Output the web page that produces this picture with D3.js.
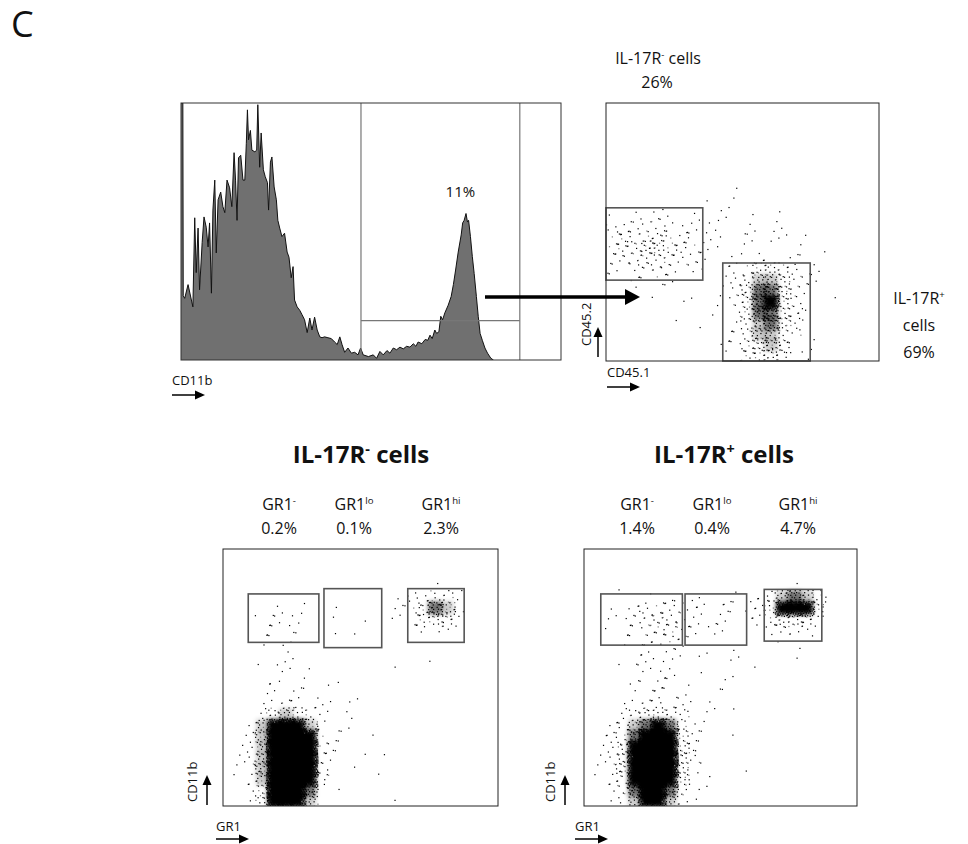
<!DOCTYPE html>
<html>
<head>
<meta charset="utf-8">
<script src="https://cdn.jsdelivr.net/npm/d3@7"></script>
<style>
body { margin: 0; background: #fff; }
svg text { font-family: "Open Sans", Lato, sans-serif; fill: #111; }
</style>
</head>
<body>
<svg id="fig" width="968" height="844"></svg>
<script>
// CD11b histogram, channel (0-1024) and events per channel
var histChannel = [0,5,6,10,19,28,32,37,41,46,50,57,62,68,73,77,82,86,91,95,
  100,107,113,118,124,131,137,143,147,151,155,161,167,172,176,179,182,187,191,199,
  204,207,212,216,222,227,233,236,241,245,251,257,261,266,272,279,286,291,297,302,
  306,313,320,326,333,340,347,353,360,367,374,380,387,396,405,414,421,428,434,441,
  450,459,468,477,484,491,505,518,527,536,545,555,563,572,581,590,599,608,617,626,
  633,639,649,658,665,671,677,684,689,695,700,705,711,720,728,734,740,747,755,759,
  763,768,772,775,780,785,790,796,801,806,812,819,826,835,842];
var histCount = [300,300,75,72,88,70,62,166,102,154,82,137,167,155,132,160,78,175,210,125,
  187,196,179,172,210,201,179,242,210,163,236,239,210,210,253,292,257,268,245,243,
  245,298,225,265,222,214,207,175,231,237,202,187,163,154,144,148,126,120,96,109,
  70,62,58,53,47,32,49,35,50,35,27,26,27,26,25,21,18,27,18,9,
  14,8,9,6,14,6,4,6,2,10,6,11,8,14,12,15,13,16,15,19,
  16,21,19,24,23,29,25,35,31,33,51,47,55,64,74,88,105,126,146,160,
  163,171,161,163,144,121,101,74,51,31,23,14,8,2,0];
var histGateX = [485, 913];
var histGateLevel = 46;
var histPercent = "11%";

// dot plots: event density per grid cell, rows top to bottom, 0 = empty .. 9 = saturated
var cd45Density = [
  "000000000000000000000000",
  "000000000000000000000000",
  "000000000000000000000000",
  "000000000000000000000000",
  "000000000000000000000000",
  "000000000000000000000000",
  "000000000000000000000000",
  "000000000000000000000000",
  "000000000001000000000000",
  "000000000111000000000000",
  "111221111110101000000000",
  "232332222101111110000000",
  "343443322110111111000000",
  "344554332010101010100000",
  "233443322011222111000000",
  "222332221012355432100000",
  "111111100013466532100000",
  "001001010013577532010000",
  "000100100013578531000000",
  "000001000112577532000000",
  "000000010012467531000000",
  "000000000012466431000000",
  "000000000112456421000000",
  "000000000012455421000000"];
var negDensity = [
  "000000000000000000000000",
  "000000000000000000000000",
  "000000000000000000000000",
  "000000000000000001100000",
  "000000000000001123442000",
  "000121100100001135763000",
  "000122100100101024542000",
  "000122100010000012210000",
  "000111100001000000000000",
  "000011100000000000000000",
  "000101100000000001000000",
  "000011110000001000000000",
  "000121101010000000000000",
  "000022110101000000000000",
  "000123211110000000000000",
  "001356532111000000000000",
  "002689862101000000000000",
  "002699983110010000000000",
  "013699993110100000000000",
  "013699993210010000000000",
  "012699993101000000000000",
  "012699983100010000000000",
  "012599972100000000000000",
  "001599861000001000000000"];
var posDensity = [
  "000000000000000000000000",
  "000000000000000000000000",
  "000000000000000000000000",
  "000000000000000001100000",
  "000101210110111246764100",
  "001223333221222358885100",
  "001233443212111245542000",
  "001123342121100023321000",
  "000122332101000001100000",
  "000012211010110000100000",
  "000122210100100000000000",
  "000012221010011000000000",
  "000112221001100000000000",
  "000012221100100000000000",
  "000123321111000000000000",
  "001345543110100000000000",
  "002467874210000000000000",
  "012479985210010000000000",
  "013589995210000000000000",
  "013589995310000000000000",
  "012589995210001000000000",
  "012489985210000000000000",
  "012479974100000000000000",
  "001368863100000000000000"];
var dotsPerLevel = [0, 1, 2, 4, 7, 12, 20, 32, 60, 120];
var shadePerLevel = [0, 0, 0, 0, 0, 0, 0.2, 0.55, 1, 1];

// gates as [x0, x1, y0, y1] in channels
var cd45Gates = [[0, 363, 321, 608], [438, 766, 0, 389]];
var negGates = [[94, 357, 652, 845], [376, 591, 631, 866], [688, 898, 652, 866]];
var posGates = [[63, 369, 641, 845], [379, 610, 641, 845], [676, 892, 657, 863]];

var gr1Names = [["GR1", "-"], ["GR1", "lo"], ["GR1", "hi"]];
var negPercents = ["0.2%", "0.1%", "2.3%"];
var posPercents = ["1.4%", "0.4%", "4.7%"];
var cd45Percents = ["26%", "69%"];

var svg = d3.select("#fig");
svg.append("rect").attr("width", 968).attr("height", 844).attr("fill", "#fff");
svg.append("defs").append("filter").attr("id", "soft")
  .attr("x", "-20%").attr("y", "-20%").attr("width", "140%").attr("height", "140%")
  .append("feGaussianBlur").attr("stdDeviation", 2);

function supText(g, x, y, parts, size, weight) {
  var t = g.append("text")
    .attr("x", x)
    .attr("y", y)
    .attr("text-anchor", "middle")
    .style("font-size", size + "px")
    .style("font-weight", weight || "normal");
  t.append("tspan").text(parts[0]);
  t.append("tspan").attr("baseline-shift", "super").style("font-size", (size * 0.6) + "px").text(parts[1]);
  if (parts[2]) t.append("tspan").text(parts[2]);
  return t;
}

function arrow(x1, y1, x2, y2, sw, hl, hw) {
  var a = Math.atan2(y2 - y1, x2 - x1);
  var bx = x2 - hl * Math.cos(a), by = y2 - hl * Math.sin(a);
  svg.append("line")
    .attr("x1", x1).attr("y1", y1).attr("x2", bx).attr("y2", by)
    .attr("stroke", "#000").attr("stroke-width", sw);
  svg.append("path")
    .attr("d", "M" + x2 + "," + y2 +
      "L" + (bx + hw * Math.sin(a)) + "," + (by - hw * Math.cos(a)) +
      "L" + (bx - hw * Math.sin(a)) + "," + (by + hw * Math.cos(a)) + "Z")
    .attr("fill", "#000");
}

// o: offsets of the axis names and arrows from the frame
function axisLabels(box, xName, yName, o) {
  svg.append("text")
    .attr("x", box.x0 - o.xl)
    .attr("y", box.y1 + o.xt)
    .style("font-size", "13px")
    .text(xName);
  arrow(box.x0 - o.xl, box.y1 + o.xa, box.x0 - o.xl + 33, box.y1 + o.xa, 1.5, 10, 4.5);
  if (yName) {
    svg.append("text")
      .attr("transform", "translate(" + (box.x0 - o.yt) + "," + (box.y1 - o.yb) + ")rotate(-90)")
      .style("font-size", "13px")
      .text(yName);
    arrow(box.x0 - o.ya, box.y1 - o.yab, box.x0 - o.ya, box.y1 - o.yab - 30, 1.5, 10, 4.5);
  }
}

// ---- histogram ----
var hBox = {x0: 181, x1: 561, y0: 103, y1: 360};
var hx = d3.scaleLinear().domain([0, 1024]).range([hBox.x0, hBox.x1]);
var hy = d3.scaleLinear().domain([0, 300]).range([hBox.y1, hBox.y0]);
var histData = histChannel.map(function(c, i) { return {c: c, n: histCount[i]}; });

svg.append("clipPath").attr("id", "clipHist")
  .append("rect").attr("x", hBox.x0).attr("y", hBox.y0)
  .attr("width", hBox.x1 - hBox.x0).attr("height", hBox.y1 - hBox.y0);

var hg = svg.append("g").attr("clip-path", "url(#clipHist)");
hg.append("path")
  .datum(histData)
  .attr("fill", "#707070")
  .attr("d", d3.area().x(function(d) { return hx(d.c); }).y0(hy(0)).y1(function(d) { return hy(d.n); }));
hg.append("path")
  .datum(histData)
  .attr("fill", "none")
  .attr("stroke", "#111")
  .attr("stroke-width", 1)
  .attr("d", d3.line().x(function(d) { return hx(d.c); }).y(function(d) { return hy(d.n); }));

histGateX.forEach(function(c) {
  svg.append("line")
    .attr("x1", hx(c)).attr("x2", hx(c)).attr("y1", hBox.y0).attr("y2", hBox.y1)
    .attr("stroke", "#777").attr("stroke-width", 1.2);
});
svg.append("line")
  .attr("x1", hx(histGateX[0])).attr("x2", hx(histGateX[1]))
  .attr("y1", hy(histGateLevel)).attr("y2", hy(histGateLevel))
  .attr("stroke", "#777").attr("stroke-width", 1.2);

svg.append("rect")
  .attr("x", hBox.x0).attr("y", hBox.y0)
  .attr("width", hBox.x1 - hBox.x0).attr("height", hBox.y1 - hBox.y0)
  .attr("fill", "none").attr("stroke", "#333").attr("stroke-width", 1);

svg.append("text")
  .attr("x", hx(d3.mean(histGateX)) + 20)
  .attr("y", 197)
  .attr("text-anchor", "middle")
  .style("font-size", "15px")
  .text(histPercent);

axisLabels(hBox, "CD11b", null, {xl: 9, xt: 25, xa: 35});

// ---- dot plots ----
function dotPanel(id, box, density, gates) {
  var x = d3.scaleLinear().domain([0, 1024]).range([box.x0, box.x1]);
  var y = d3.scaleLinear().domain([0, 1024]).range([box.y1, box.y0]);
  var nRows = density.length, nCols = density[0].length;
  var cw = 1024 / nCols, chh = 1024 / nRows;
  var cells = [], dots = [];
  density.forEach(function(row, r) {
    row.split("").forEach(function(lv, c) {
      lv = +lv;
      var cell = r * nCols + c;
      if (shadePerLevel[lv] > 0) {
        cells.push({c0: c * cw, c1: (c + 1) * cw, r0: 1024 - (r + 1) * chh, r1: 1024 - r * chh, o: shadePerLevel[lv]});
      }
      var pu = (cell * 0.6180339887) % 1, pv = (cell * 0.4142135624) % 1;
      for (var k = 0; k < dotsPerLevel[lv]; k++) {
        var u = (pu + k * 0.7548776662) % 1;
        var v = (pv + k * 0.5698402910) % 1;
        dots.push({
          cx: c * cw + (u * 1.5 - 0.25) * cw,
          cy: 1024 - (r * chh + (v * 1.5 - 0.25) * chh),
          grey: lv <= 6 && k % 3 === 2
        });
      }
    });
  });

  svg.append("clipPath").attr("id", id)
    .append("rect").attr("x", box.x0).attr("y", box.y0)
    .attr("width", box.x1 - box.x0).attr("height", box.y1 - box.y0);

  var layer = svg.append("g").attr("clip-path", "url(#" + id + ")");

  layer.append("g").attr("filter", "url(#soft)")
    .selectAll("rect").data(cells).enter()
    .append("rect")
    .attr("x", function(d) { return x(d.c0) - 1; })
    .attr("y", function(d) { return y(d.r1) - 1; })
    .attr("width", function(d) { return x(d.c1) - x(d.c0) + 2; })
    .attr("height", function(d) { return y(d.r0) - y(d.r1) + 2; })
    .attr("fill", "#000")
    .attr("fill-opacity", function(d) { return d.o; });

  layer.append("g")
    .selectAll("rect").data(dots).enter()
    .append("rect")
    .attr("x", function(d) { return x(d.cx); })
    .attr("y", function(d) { return y(d.cy); })
    .attr("width", 1.2)
    .attr("height", 1.2)
    .attr("fill", function(d) { return d.grey ? "#7a7a7a" : "#000"; });

  svg.append("g").selectAll("rect").data(gates).enter()
    .append("rect")
    .attr("x", function(d) { return x(d[0]); })
    .attr("y", function(d) { return y(d[3]); })
    .attr("width", function(d) { return x(d[1]) - x(d[0]); })
    .attr("height", function(d) { return y(d[2]) - y(d[3]); })
    .attr("fill", "none")
    .attr("stroke", "#555")
    .attr("stroke-width", 1.6);

  svg.append("rect")
    .attr("x", box.x0).attr("y", box.y0)
    .attr("width", box.x1 - box.x0).attr("height", box.y1 - box.y0)
    .attr("fill", "none").attr("stroke", "#222").attr("stroke-width", 1);
  return x;
}

var cBox = {x0: 606, x1: 879, y0: 103, y1: 361};
dotPanel("clipCd45", cBox, cd45Density, cd45Gates);

var nBox = {x0: 223, x1: 498, y0: 549, y1: 806};
var pBox = {x0: 584, x1: 857, y0: 549, y1: 806};
dotPanel("clipNeg", nBox, negDensity, negGates);
dotPanel("clipPos", pBox, posDensity, posGates);

arrow(485, 297, 640, 297, 3.5, 15, 8);

axisLabels(cBox, "CD45.1", "CD45.2", {xl: -1, xt: 16, xa: 26, yt: 15, yb: 15, ya: 8, yab: 4});
axisLabels(nBox, "GR1", "CD11b", {xl: 7, xt: 25, xa: 33, yt: 26, yb: 4, ya: 16, yab: 1});
axisLabels(pBox, "GR1", "CD11b", {xl: 9, xt: 25, xa: 33, yt: 29, yb: 4, ya: 19, yab: 1});

supText(svg, 658, 64, ["IL-17R", "-", " cells"], 16);
svg.append("text").attr("x", 657).attr("y", 88).attr("text-anchor", "middle")
  .style("font-size", "16px").text(cd45Percents[0]);
supText(svg, 919, 304, ["IL-17R", "+"], 16);
svg.append("text").attr("x", 919).attr("y", 331).attr("text-anchor", "middle")
  .style("font-size", "16px").text("cells");
svg.append("text").attr("x", 919).attr("y", 358).attr("text-anchor", "middle")
  .style("font-size", "16px").text(cd45Percents[1]);

supText(svg, 361, 463, ["IL-17R", "-", " cells"], 24, "bold");
supText(svg, 724, 463, ["IL-17R", "+", " cells"], 24, "bold");

var negCenters = [279, 354, 441];
var posCenters = [637, 712, 798];
gr1Names.forEach(function(nm, i) {
  supText(svg, negCenters[i], 510, nm, 16);
  supText(svg, posCenters[i], 510, nm, 16);
  svg.append("text").attr("x", negCenters[i]).attr("y", 534).attr("text-anchor", "middle")
    .style("font-size", "16px").text(negPercents[i]);
  svg.append("text").attr("x", posCenters[i]).attr("y", 534).attr("text-anchor", "middle")
    .style("font-size", "16px").text(posPercents[i]);
});

svg.append("text").attr("x", 11).attr("y", 37).style("font-size", "36px").text("C");
</script>
</body>
</html>
